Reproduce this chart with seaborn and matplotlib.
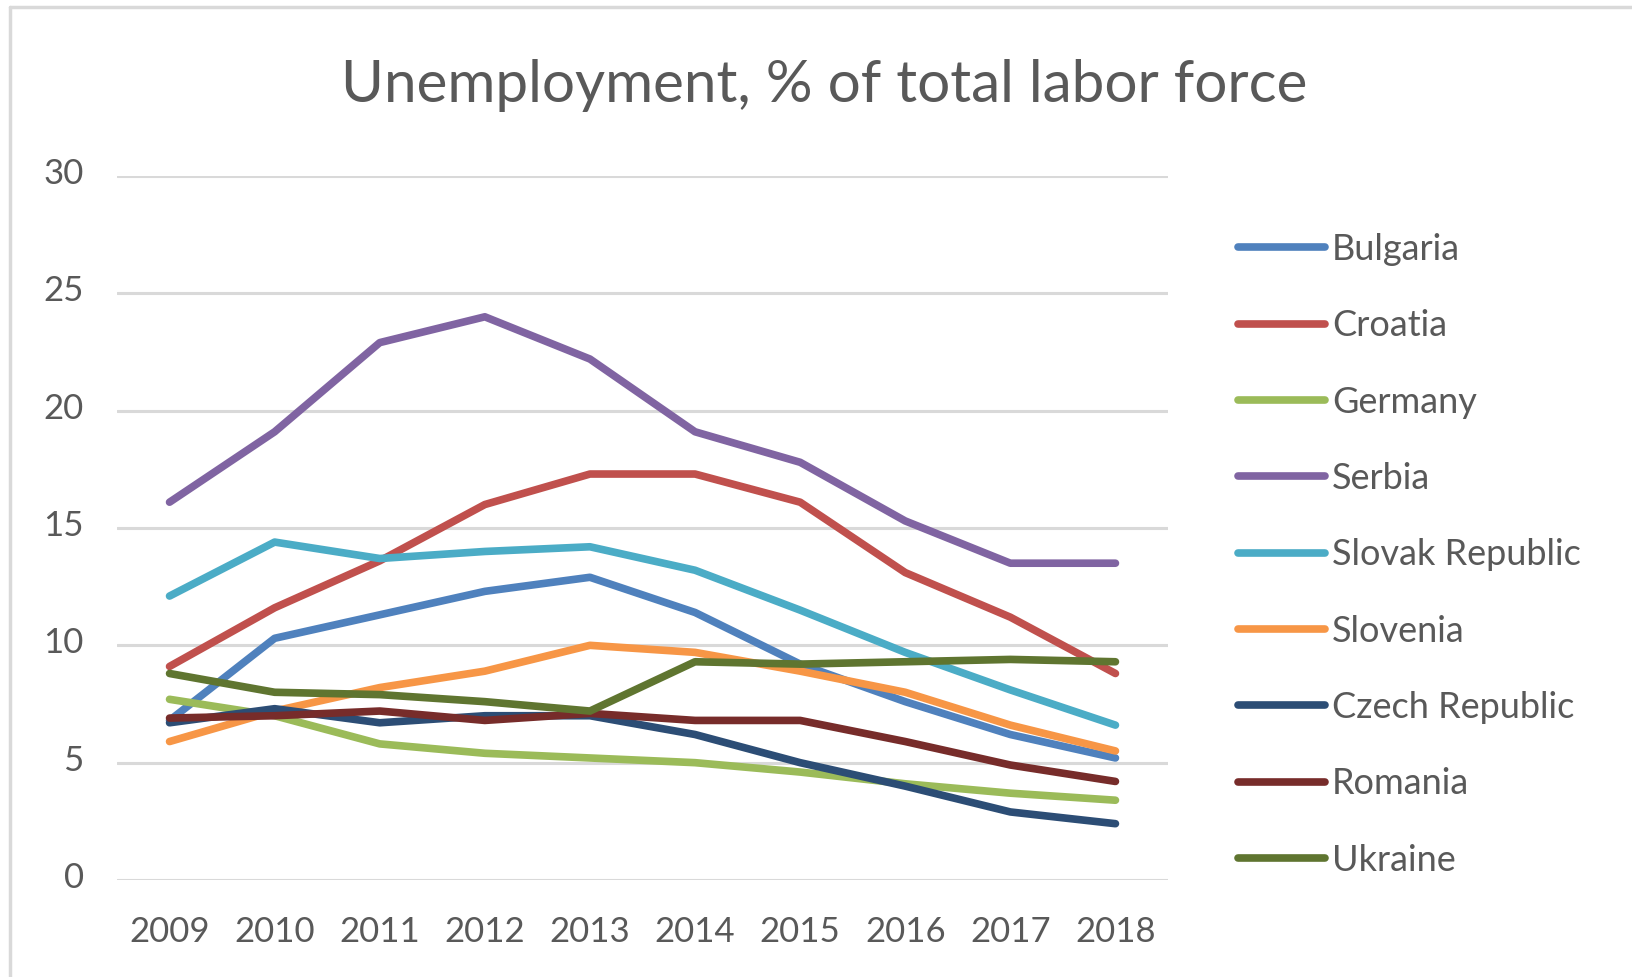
import numpy as np
import pandas as pd
import matplotlib.pyplot as plt
import matplotlib.transforms as mtransforms
from matplotlib.lines import Line2D
import seaborn as sns

# data
years = ["2009", "2010", "2011", "2012", "2013", "2014", "2015", "2016", "2017", "2018"]
bulgaria = [6.8, 10.3, 11.3, 12.3, 12.9, 11.4, 9.2, 7.6, 6.2, 5.2]
croatia = [9.1, 11.6, 13.6, 16.0, 17.3, 17.3, 16.1, 13.1, 11.2, 8.8]
germany = [7.7, 7.0, 5.8, 5.4, 5.2, 5.0, 4.6, 4.1, 3.7, 3.4]
serbia = [16.1, 19.1, 22.9, 24.0, 22.2, 19.1, 17.8, 15.3, 13.5, 13.5]
slovak = [12.1, 14.4, 13.7, 14.0, 14.2, 13.2, 11.5, 9.7, 8.1, 6.6]
slovenia = [5.9, 7.2, 8.2, 8.9, 10.0, 9.7, 8.9, 8.0, 6.6, 5.5]
czech = [6.7, 7.3, 6.7, 7.0, 7.0, 6.2, 5.0, 4.0, 2.9, 2.4]
romania = [6.9, 7.0, 7.2, 6.8, 7.1, 6.8, 6.8, 5.9, 4.9, 4.2]
ukraine = [8.8, 8.0, 7.9, 7.6, 7.2, 9.3, 9.2, 9.3, 9.4, 9.3]

countries = ["Bulgaria", "Croatia", "Germany", "Serbia", "Slovak Republic",
             "Slovenia", "Czech Republic", "Romania", "Ukraine"]
series = [bulgaria, croatia, germany, serbia, slovak, slovenia, czech, romania, ukraine]
colors = ["#4F81BD", "#C0504D", "#9BBB59", "#8064A2", "#4BACC6",
          "#F79646", "#2C4D75", "#772C2A", "#5F7530"]

df = pd.DataFrame({
    "year": years * len(countries),
    "country": np.repeat(countries, len(years)),
    "value": np.concatenate(series),
})

sns.set_style("white")
plt.rcParams["font.family"] = ["Lato", "DejaVu Sans"]
text_color = "#595959"
grid_color = "#D9D9D9"

W, H = 1632, 977
fig = plt.figure(figsize=(W / 100, H / 100), dpi=100)
ax = fig.add_axes([117 / W, 1 - 880 / H, 1051 / W, 704 / H])

sns.lineplot(data=df, x="year", y="value", hue="country", hue_order=countries,
             palette=dict(zip(countries, colors)), linewidth=5.5, sort=False,
             ax=ax, legend=False)

ax.set_xlim(-0.5, 9.5)
ax.set_ylim(0, 30)
ax.set_yticks(range(0, 31, 5))
ax.set_xlabel("")
ax.set_ylabel("")
for s in ax.spines.values():
    s.set_visible(False)
ax.grid(axis="y", color=grid_color, linewidth=2.2)
ax.set_axisbelow(True)
ax.tick_params(axis="both", length=0, labelsize=25, labelcolor=text_color)
ax.tick_params(axis="y", pad=24)
ax.tick_params(axis="x", pad=26)
# Excel sits the value labels slightly above their gridline
off = mtransforms.ScaledTranslation(0, 5 / 100, fig.dpi_scale_trans)
for lbl in ax.get_yticklabels():
    lbl.set_transform(lbl.get_transform() + off)

handles = [Line2D([0], [0], color=c, linewidth=5.5) for c in colors]
fig.legend(handles, countries, loc="upper left",
           bbox_to_anchor=(1238 / W, 1 - 233 / H), frameon=False,
           fontsize=26, handlelength=2.4, handletextpad=0.2,
           labelspacing=1.2, borderpad=0, borderaxespad=0,
           labelcolor=text_color)

fig.text(824 / W, 1 - 86 / H, "Unemployment, % of total labor force",
         ha="center", va="center", fontsize=42, color=text_color)

# chart frame (left and top edges visible in the reference)
fig.add_artist(Line2D([10 / W, 10 / W], [0, 1 - 7 / H], color=grid_color,
                      linewidth=2.5, transform=fig.transFigure))
fig.add_artist(Line2D([10 / W, 1], [1 - 7 / H, 1 - 7 / H], color=grid_color,
                      linewidth=2.5, transform=fig.transFigure))

plt.savefig("out.png", dpi=100)
